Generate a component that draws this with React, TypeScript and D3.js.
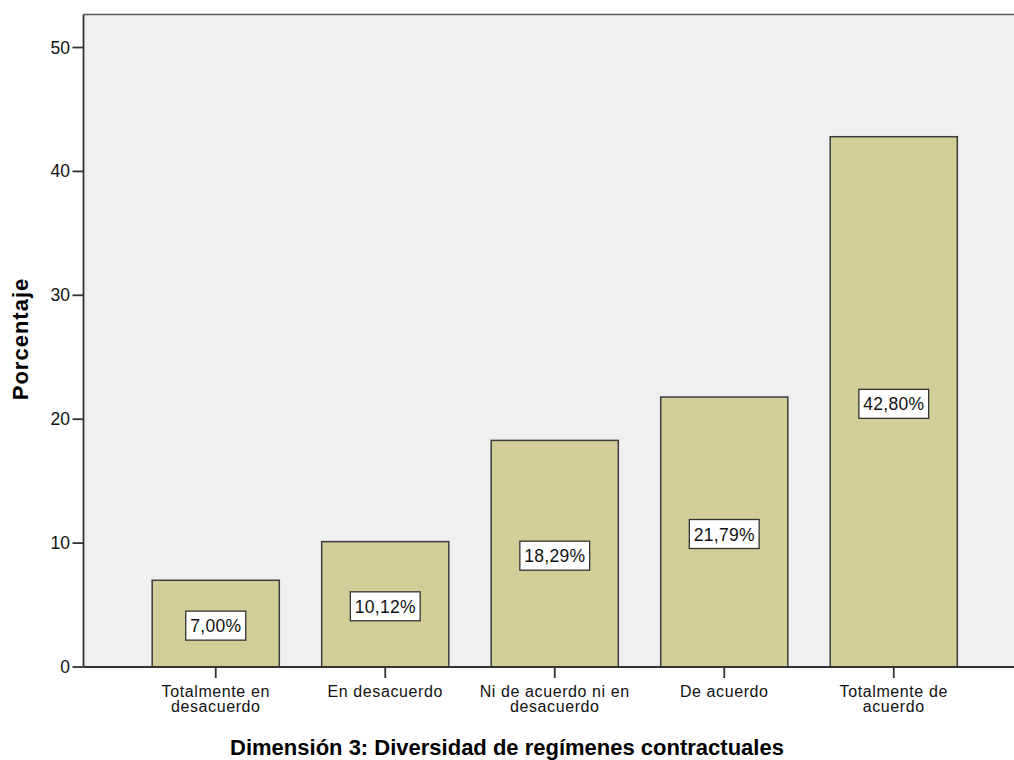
import React from "react";
import * as d3 from "d3";

const categories: string[][] = [
  ["Totalmente en", "desacuerdo"],
  ["En desacuerdo"],
  ["Ni de acuerdo ni en", "desacuerdo"],
  ["De acuerdo"],
  ["Totalmente de", "acuerdo"],
];
const categoryKeys = ["c1", "c2", "c3", "c4", "c5"];
const values = [7.0, 10.12, 18.29, 21.79, 42.8];
const valueLabels = ["7,00%", "10,12%", "18,29%", "21,79%", "42,80%"];
const yTicks = [0, 10, 20, 30, 40, 50];
const yTitle = "Porcentaje";
const xTitle = "Dimensión 3: Diversidad de regímenes contractuales";

const W = 1014;
const H = 760;
const FONT = "'Liberation Sans', Arial, sans-serif";

export default function App() {
  const plotLeft = 83.5;
  const plotTop = 14.5;
  const plotBottom = 667;
  const y = d3.scaleLinear().domain([0, 50]).range([plotBottom, 47.5]);
  const x = d3
    .scaleBand<string>()
    .domain(categoryKeys)
    .range([131, 978.5])
    .paddingInner(0.25)
    .paddingOuter(0.125);

  const labelW = (s: string) => s.length * 9.8 + 11;

  return (
    <svg
      width={W}
      height={H}
      style={{ position: "absolute", left: 0, top: 0, background: "#fff" }}
      fontFamily={FONT}
    >
      <rect x={plotLeft} y={plotTop} width={W - plotLeft} height={plotBottom - plotTop} fill="#f0f0f0" />
      <line x1={plotLeft} x2={W} y1={plotTop} y2={plotTop} stroke="#5a5a5a" strokeWidth={1.5} />
      {values.map((v, i) => {
        const k = categoryKeys[i];
        const x0 = x(k)!;
        const bw = x.bandwidth();
        const cx = x0 + bw / 2;
        const cy = y(v / 2) + 2;
        const lw = labelW(valueLabels[i]);
        return (
          <g key={k}>
            <rect x={x0} y={y(v)} width={bw} height={plotBottom - y(v)} fill="#d3ce97" stroke="#3c3c3c" strokeWidth={1.5} />
            <rect x={cx - lw / 2} y={cy - 14.5} width={lw} height={29} fill="#fff" stroke="#333" strokeWidth={1.3} />
            <text x={cx} y={cy + 6.5} textAnchor="middle" fontSize={17.5} letterSpacing={0.3} fill="#111">
              {valueLabels[i]}
            </text>
          </g>
        );
      })}
      {/* axes */}
      <line x1={plotLeft} x2={plotLeft} y1={plotTop} y2={plotBottom} stroke="#333" strokeWidth={1.8} />
      <line x1={plotLeft} x2={W} y1={plotBottom} y2={plotBottom} stroke="#333" strokeWidth={1.8} />
      {yTicks.map((t) => (
        <g key={t}>
          <line x1={plotLeft - 11} x2={plotLeft} y1={y(t)} y2={y(t)} stroke="#333" strokeWidth={1.8} />
          <text x={70} y={y(t) + 6} textAnchor="end" fontSize={17.5} fill="#111">
            {t}
          </text>
        </g>
      ))}
      {categoryKeys.map((k, i) => {
        const cx = x(k)! + x.bandwidth() / 2;
        return (
          <g key={k}>
            <line x1={cx} x2={cx} y1={plotBottom} y2={plotBottom + 11} stroke="#333" strokeWidth={1.8} />
            {categories[i].map((line, j) => (
              <text key={j} x={cx} y={697 + j * 15} textAnchor="middle" fontSize={16} letterSpacing={0.6} fill="#111">
                {line}
              </text>
            ))}
          </g>
        );
      })}
      <text
        transform={`translate(28,339) rotate(-90)`}
        textAnchor="middle"
        fontSize={22}
        fontWeight="bold"
        letterSpacing={1}
        fill="#000"
      >
        {yTitle}
      </text>
      <text x={507} y={755} textAnchor="middle" fontSize={22} fontWeight="bold" fill="#000">
        {xTitle}
      </text>
    </svg>
  );
}
